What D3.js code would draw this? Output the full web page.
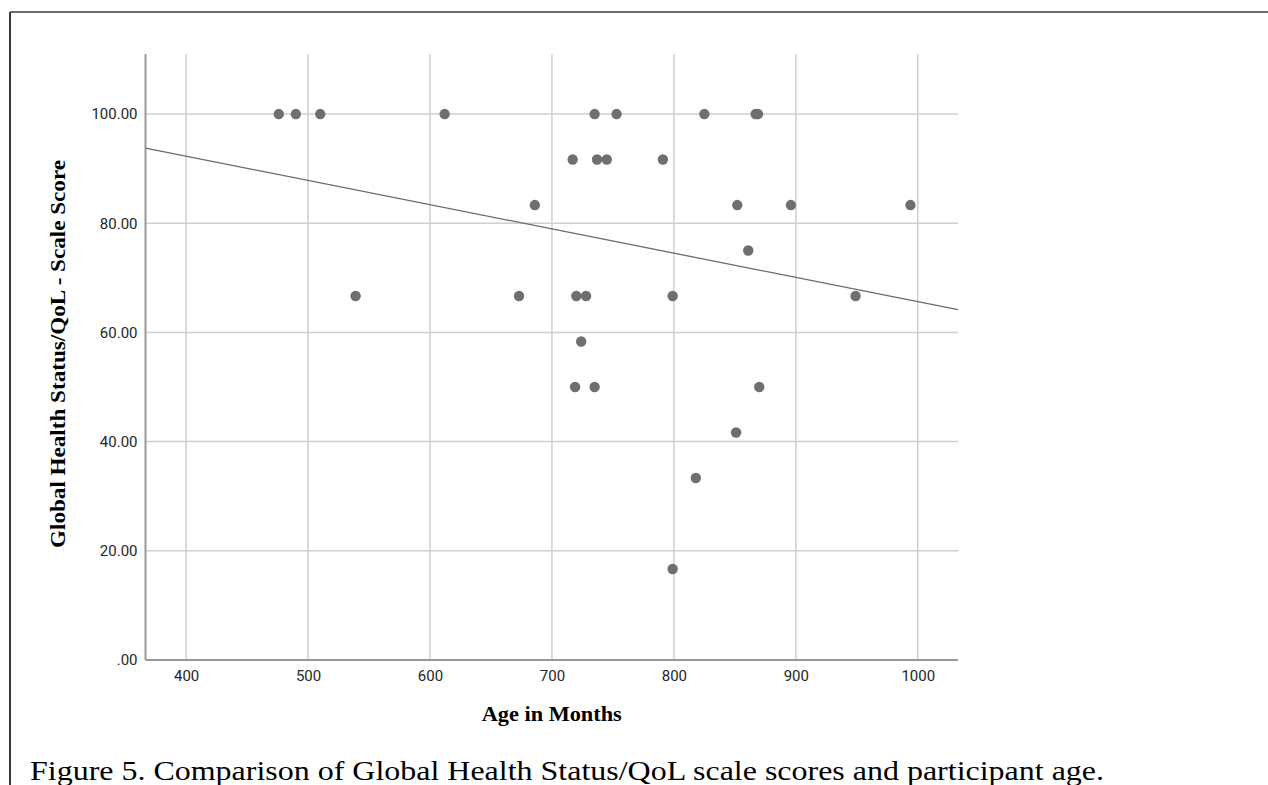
<!DOCTYPE html>
<html>
<head>
<meta charset="utf-8">
<script src="https://cdn.jsdelivr.net/npm/d3@7"></script>
<style>
  html, body { margin: 0; padding: 0; background: #fff; }
  svg { display: block; }
</style>
</head>
<body>
<svg id="chart" width="1268" height="785"></svg>
<script>
// Participant age (months) and Global Health Status/QoL scale score
const ages = [
  476, 490, 510, 612, 735, 753, 825, 867, 869,
  717, 737, 745, 791,
  686, 852, 896, 994,
  861,
  539, 673, 720, 728, 799, 949,
  724,
  719, 735, 870,
  851,
  818,
  799
];
const scores = [
  100, 100, 100, 100, 100, 100, 100, 100, 100,
  91.67, 91.67, 91.67, 91.67,
  83.33, 83.33, 83.33, 83.33,
  75,
  66.67, 66.67, 66.67, 66.67, 66.67, 66.67,
  58.33,
  50, 50, 50,
  41.67,
  33.33,
  16.67
];
const xTicks = [400, 500, 600, 700, 800, 900, 1000];
const yTicks = [0, 20, 40, 60, 80, 100];
const xDomain = [366.7, 1033];
const yDomain = [0, 111];

const xTitle = "Age in Months";
const yTitle = "Global Health Status/QoL - Scale Score";
const caption = "Figure 5. Comparison of Global Health Status/QoL scale scores and participant age.";

const svg = d3.select("#chart");
const plot = { left: 145.5, right: 958, top: 54, bottom: 660 };

const x = d3.scaleLinear().domain(xDomain).range([plot.left, plot.right]);
const y = d3.scaleLinear().domain(yDomain).range([plot.bottom, plot.top]);

// page frame: left and top rules
svg.append("line").attr("x1", 10).attr("x2", 10).attr("y1", 12).attr("y2", 785)
  .attr("stroke", "#3a3a3a").attr("stroke-width", 2);
svg.append("line").attr("x1", 10).attr("x2", 1268).attr("y1", 12).attr("y2", 12)
  .attr("stroke", "#3a3a3a").attr("stroke-width", 1.5);

// grid
const grid = svg.append("g").attr("stroke", "#cfcfcf").attr("stroke-width", 1.5);
grid.selectAll(".vg").data(xTicks).join("line")
  .attr("x1", d => x(d)).attr("x2", d => x(d))
  .attr("y1", plot.top).attr("y2", plot.bottom);
grid.selectAll(".hg").data(yTicks.filter(d => d > 0)).join("line")
  .attr("x1", plot.left).attr("x2", plot.right)
  .attr("y1", d => y(d)).attr("y2", d => y(d));

// axes
const fmtY = d => d === 0 ? ".00" : d3.format(".2f")(d);
const yAxis = svg.append("g").attr("transform", `translate(${plot.left},0)`)
  .call(d3.axisLeft(y).tickValues(yTicks).tickFormat(fmtY).tickSize(0).tickPadding(8));
const xAxis = svg.append("g").attr("transform", `translate(0,${plot.bottom})`)
  .call(d3.axisBottom(x).tickValues(xTicks).tickFormat(d3.format("d")).tickSize(0).tickPadding(10));
[xAxis, yAxis].forEach(a => {
  a.select(".domain").attr("stroke", "#999").attr("stroke-width", 2);
  a.selectAll("text").attr("font-family", "Roboto, sans-serif").attr("font-size", 15)
    .attr("fill", "#262626");
});
yAxis.select(".domain").attr("d", `M0,${plot.top}V${plot.bottom}`);
xAxis.select(".domain").attr("d", `M${plot.left},0H${plot.right}`);

// least-squares fit line
const n = ages.length;
const mx = d3.mean(ages), my = d3.mean(scores);
let sxy = 0, sxx = 0;
for (let i = 0; i < n; i++) {
  sxy += (ages[i] - mx) * (scores[i] - my);
  sxx += (ages[i] - mx) ** 2;
}
const slope = sxy / sxx;
const intercept = my - slope * mx;
svg.append("line")
  .attr("x1", x(xDomain[0])).attr("y1", y(intercept + slope * xDomain[0]))
  .attr("x2", x(xDomain[1])).attr("y2", y(intercept + slope * xDomain[1]))
  .attr("stroke", "#6a6a6a").attr("stroke-width", 1.3);

// points
svg.append("g").selectAll("circle").data(d3.range(n)).join("circle")
  .attr("cx", i => x(ages[i])).attr("cy", i => y(scores[i]))
  .attr("r", 5.2).attr("fill", "#6f6f6f");

// axis titles
svg.append("text").text(xTitle)
  .attr("x", (plot.left + plot.right) / 2).attr("y", 721)
  .attr("text-anchor", "middle")
  .attr("font-family", "'Liberation Serif', 'Times New Roman', serif")
  .attr("font-weight", "bold").attr("font-size", 20)
  .attr("textLength", 140).attr("lengthAdjust", "spacingAndGlyphs");

svg.append("text").text(yTitle)
  .attr("transform", `translate(65,354) rotate(-90)`)
  .attr("text-anchor", "middle")
  .attr("font-family", "'Liberation Serif', 'Times New Roman', serif")
  .attr("font-weight", "bold").attr("font-size", 21)
  .attr("textLength", 388).attr("lengthAdjust", "spacingAndGlyphs");

// caption
svg.append("text").text(caption)
  .attr("x", 30).attr("y", 780)
  .attr("font-family", "'Liberation Serif', 'Times New Roman', serif")
  .attr("font-size", 28).attr("fill", "#000")
  .attr("textLength", 1074).attr("lengthAdjust", "spacingAndGlyphs");
</script>
</body>
</html>
